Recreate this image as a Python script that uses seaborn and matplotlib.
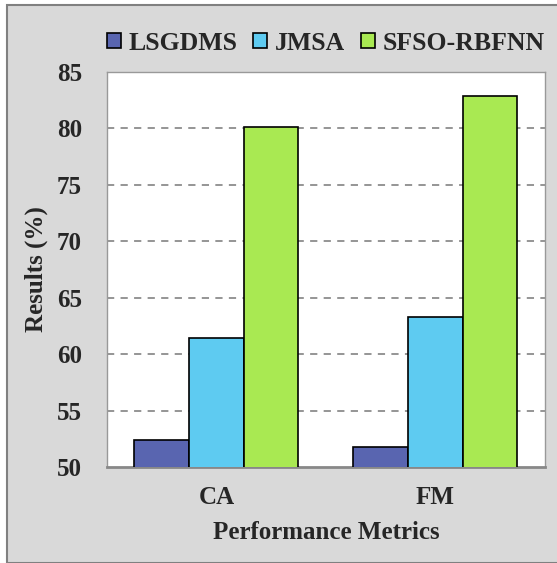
import pandas as pd
import seaborn as sns
import matplotlib.pyplot as plt
from matplotlib.patches import Rectangle
import numpy as np

metrics = ['CA', 'FM']
methods = ['LSGDMS', 'JMSA', 'SFSO-RBFNN']
lsgdms = [52.4, 51.8]
jmsa = [61.4, 63.3]
sfso = [80.1, 82.9]
colors = ['#5965b0', '#5ecbf1', '#a9e952']

data = pd.DataFrame({
    'metric': metrics * 3,
    'method': [m for m in methods for _ in metrics],
    'val': lsgdms + jmsa + sfso,
})

sns.set_style("white")
plt.rcParams['font.family'] = ['Liberation Serif', 'DejaVu Serif']
plt.rcParams['font.weight'] = 'bold'

fig = plt.figure(figsize=(5.57, 5.63), dpi=100, facecolor='white')
fig.patches.append(Rectangle((0.0125, 0.0), 1.0, 0.991, transform=fig.transFigure,
                             facecolor='#d9d9d9', edgecolor='#808080', lw=1.5, zorder=-1))
ax = fig.add_axes([0.192, 0.1705, 0.786, 0.7015])

sns.barplot(x='metric', y='val', hue='method', data=data, palette=colors, saturation=1,
            width=0.75, edgecolor='black', linewidth=1.2, ax=ax, zorder=3)

ax.set_ylim(50, 85)
ax.set_yticks(np.arange(50, 86, 5))
ax.set_yticklabels([str(v) for v in np.arange(50, 86, 5)], fontsize=18, fontweight='bold')
ax.set_xticks(range(len(metrics)))
ax.set_xticklabels(metrics, fontsize=18, fontweight='bold')
ax.tick_params(axis='both', length=0)
ax.tick_params(axis='y', pad=18)
ax.tick_params(axis='x', pad=14)
ax.set_xlim(-0.5, 1.5)

for y in range(55, 85, 5):
    ax.axhline(y, color='#8c8c8c', lw=1.3, ls=(0, (4, 3.5)), zorder=1)

for s in ['left', 'top', 'right']:
    ax.spines[s].set_color('#999999')
    ax.spines[s].set_linewidth(1.0)
ax.spines['bottom'].set_color('#888888')
ax.spines['bottom'].set_linewidth(2)

ax.set_xlabel('Performance Metrics', fontsize=18, fontweight='bold', labelpad=8)
ax.set_ylabel('Results (%)', fontsize=18, fontweight='bold', labelpad=6)

ax.get_legend().remove()
handles = [Rectangle((0, 0), 1, 1, facecolor=c, edgecolor='black', lw=1.2) for c in colors]
fig.legend(handles, methods, loc='upper center', bbox_to_anchor=(0.585, 0.985), ncol=3,
           frameon=False, handlelength=0.55, handleheight=0.55,
           handletextpad=0.3, columnspacing=0.6, prop={'weight': 'bold', 'size': 18.5})

plt.savefig('out.png', dpi=100, facecolor=fig.get_facecolor())
